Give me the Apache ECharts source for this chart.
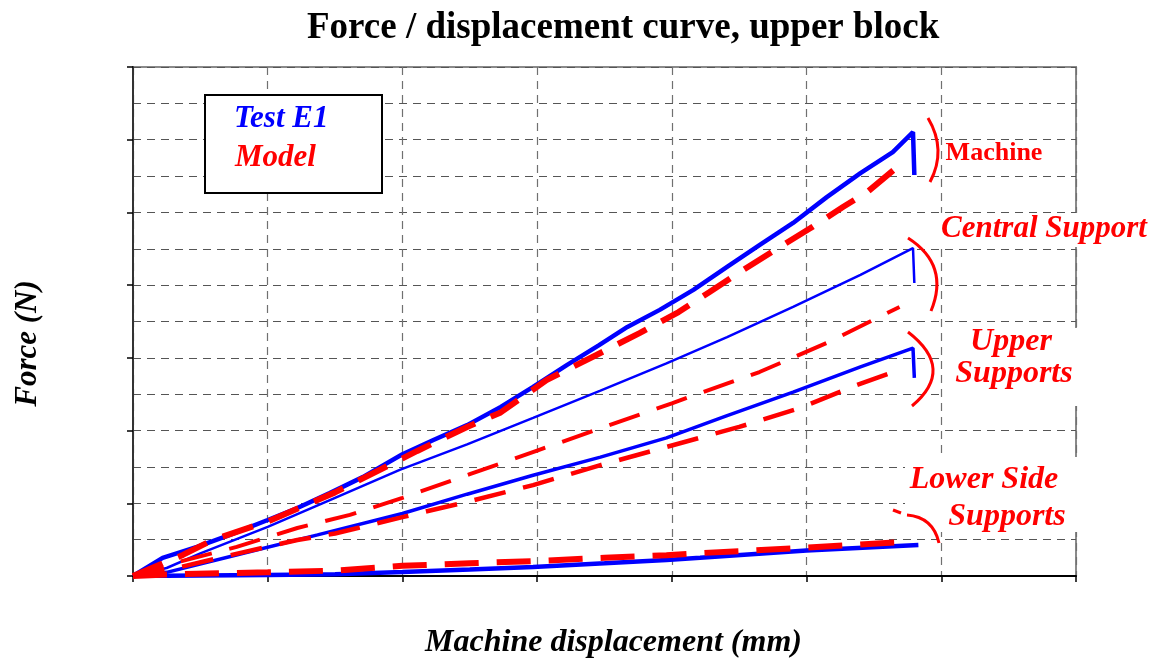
<!DOCTYPE html>
<html>
<head>
<meta charset="utf-8">
<script src="https://cdn.jsdelivr.net/npm/echarts@6/dist/echarts.min.js"></script>
<style>
  html, body { margin: 0; padding: 0; background: #fff; }
  #chart { width: 1167px; height: 664px; }
</style>
</head>
<body>
<div id="chart"></div>
<script>
// values, in grid units (x: 0..7, y: 0..14)
const machineTest = [[0,0],[0.22,0.5],[0.475,0.8],[0.72,1.13],[1.0,1.54],[1.22,1.87],[1.46,2.28],[1.705,2.72],[2.0,3.35],[2.23,3.74],[2.48,4.15],[2.73,4.65],[2.97,5.2],[3.22,5.8],[3.46,6.35],[3.67,6.85],[3.91,7.32],[4.16,7.87],[4.41,8.5],[4.65,9.1],[4.9,9.71],[5.15,10.42],[5.4,11.08],[5.64,11.66],[5.79,12.21],[5.8,11.03]];
const machineModel = [[0,0],[0.37,0.58],[0.59,0.99],[1.0,1.5],[1.5,2.3],[2.11,3.44],[2.48,4.1],[2.73,4.5],[3.07,5.39],[3.44,6.08],[3.76,6.68],[4.05,7.26],[4.28,7.81],[4.53,8.42],[4.78,9.0],[5.03,9.57],[5.27,10.15],[5.45,10.56],[5.69,11.3]];
const centralTest = [[0,0],[0.25,0.22],[0.5,0.62],[1.0,1.35],[1.5,2.15],[1.98,2.92],[2.48,3.62],[2.97,4.35],[3.47,5.1],[3.96,5.85],[4.41,6.57],[4.9,7.4],[5.4,8.28],[5.79,9.02],[5.8,8.06]];
const centralModel = [[0,0],[0.3,0.35],[0.77,0.8],[1.22,1.32],[1.61,1.68],[2.0,2.15],[2.5,2.8],[3.0,3.45],[3.5,4.1],[4.0,4.75],[4.65,5.61],[5.15,6.41],[5.69,7.4]];
const upperTest = [[0,0],[0.25,0.1],[0.79,0.6],[1.37,1.13],[2.0,1.72],[2.48,2.25],[2.97,2.77],[3.47,3.27],[3.96,3.8],[4.4,4.4],[4.9,5.06],[5.4,5.75],[5.79,6.27],[5.8,5.45]];
const upperModel = [[0,0],[0.3,0.2],[0.79,0.63],[1.22,0.99],[1.5,1.17],[2.0,1.62],[2.48,2.04],[2.97,2.5],[3.47,3.05],[3.96,3.55],[4.5,4.1],[4.95,4.62],[5.37,5.25],[5.69,5.67]];
const lowerTest = [[0,0],[1.0,0.03],[1.5,0.05],[2.0,0.11],[2.5,0.18],[2.97,0.25],[3.5,0.35],[3.96,0.44],[4.21,0.5],[5.0,0.7],[5.83,0.85]];
const lowerModel = [[0,0],[0.3,0.05],[1.0,0.1],[1.5,0.15],[2.0,0.28],[2.5,0.35],[2.97,0.41],[3.5,0.5],[3.96,0.57],[4.21,0.63],[5.0,0.78],[5.69,0.93]];

const serif = 'Liberation Serif';
const chart = echarts.init(document.getElementById('chart'));

function test(data, w) {
  return { type: 'line', data: data, showSymbol: false, symbol: 'none', z: 2,
    lineStyle: { color: '#0000ff', width: w }, animation: false };
}
function model(data, w, dash) {
  return { type: 'line', data: data, showSymbol: false, symbol: 'none', z: 3,
    lineStyle: { color: '#ff0000', width: w, type: dash }, animation: false };
}
function arc(x1, y1, cx, cy, x2, y2) {
  return { type: 'bezierCurve', z: 50,
    shape: { x1: x1, y1: y1, cpx1: cx, cpy1: cy, x2: x2, y2: y2 },
    style: { stroke: '#ff0000', lineWidth: 3, fill: null } };
}
function whiteBox(x, y, w, h) {
  return { type: 'rect', z: 45, shape: { x: x, y: y, width: w, height: h }, style: { fill: '#fff' } };
}
function label(x, y, txt, italic, size) {
  return { type: 'text', x: x, y: y, z: 60,
    style: { text: txt, fill: '#ff0000', font: (italic ? 'italic ' : '') + 'bold ' + size + 'px "' + serif + '"',
      align: 'center', verticalAlign: 'middle' } };
}

chart.setOption({
  animation: false,
  title: {
    text: 'Force / displacement curve, upper block',
    left: 302, top: 5,
    textStyle: { fontFamily: serif, fontWeight: 'bold', fontSize: 37, color: '#000' }
  },
  grid: { left: 133, right: 91, top: 67, bottom: 88, outerBoundsMode: 'none', containLabel: false,
    show: true, borderColor: '#8a8a8a', borderWidth: 2 },
  xAxis: {
    type: 'value', min: 0, max: 7, interval: 1,
    name: 'Machine displacement (mm)', nameLocation: 'middle', nameGap: 51,
    nameTextStyle: { fontFamily: serif, fontStyle: 'italic', fontWeight: 'bold', fontSize: 32, color: '#000',
      padding: [0, 0, 0, 18] },
    axisLine: { show: true, onZero: false, lineStyle: { color: '#000', width: 2 } },
    axisTick: { show: true, inside: false, length: 6, lineStyle: { color: '#000', width: 1.5 } },
    axisLabel: { show: false },
    splitLine: { show: true, lineStyle: { color: '#707070', width: 1.2, type: [8, 6] } }
  },
  yAxis: {
    type: 'value', min: 0, max: 14, interval: 2,
    name: 'Force (N)', nameLocation: 'middle', nameGap: 90,
    nameTextStyle: { fontFamily: serif, fontStyle: 'italic', fontWeight: 'bold', fontSize: 31, color: '#000',
      padding: [0, 44, 0, 0] },
    axisLine: { show: true, onZero: false, lineStyle: { color: '#333', width: 2 } },
    axisTick: { show: true, inside: false, length: 6, lineStyle: { color: '#000', width: 1.5 } },
    minorTick: { show: false, splitNumber: 2 },
    axisLabel: { show: false },
    splitLine: { show: true, lineStyle: { color: '#555', width: 1.2, type: [8, 6] } },
    minorSplitLine: { show: true, lineStyle: { color: '#555', width: 1.2, type: [8, 6] } }
  },
  series: [
    test(machineTest, 4.5),
    test(centralTest, 2.5),
    test(upperTest, 3.5),
    test(lowerTest, 4.5),
    model(machineModel, 6, [32, 17]),
    model(centralModel, 4, [32, 18]),
    model(upperModel, 4.5, [32, 18]),
    model(lowerModel, 6, [34, 18])
  ],
  graphic: [
    { type: 'rect', z: 40, shape: { x: 205, y: 95, width: 177, height: 98 },
      style: { fill: '#fff', stroke: '#000', lineWidth: 2 } },
    { type: 'text', x: 234, y: 119, z: 41,
      style: { text: 'Test E1', fill: '#0000ff', font: 'italic bold 31px "' + serif + '"', verticalAlign: 'middle' } },
    { type: 'text', x: 235, y: 158, z: 41,
      style: { text: 'Model', fill: '#ff0000', font: 'italic bold 31px "' + serif + '"', verticalAlign: 'middle' } },
    whiteBox(940, 213, 212, 34),
    whiteBox(944, 328, 140, 78),
    whiteBox(905, 457, 180, 75),
    arc(928, 118, 947, 150, 930, 182),
    arc(908, 238, 950, 265, 931, 311),
    arc(908, 332, 956, 369, 912, 406),
    { type: 'line', z: 50, shape: { x1: 893, y1: 510, x2: 901, y2: 513 }, style: { stroke: '#ff0000', lineWidth: 3 } },
    arc(907, 515, 933, 517, 939, 543),
    label(994, 153, 'Machine', false, 26),
    label(1044, 229, 'Central Support', true, 31),
    label(1011, 342, 'Upper', true, 32),
    label(1014, 374, 'Supports', true, 32),
    label(984, 480, 'Lower Side', true, 32),
    label(1007, 517, 'Supports', true, 32)
  ]
});
</script>
</body>
</html>
